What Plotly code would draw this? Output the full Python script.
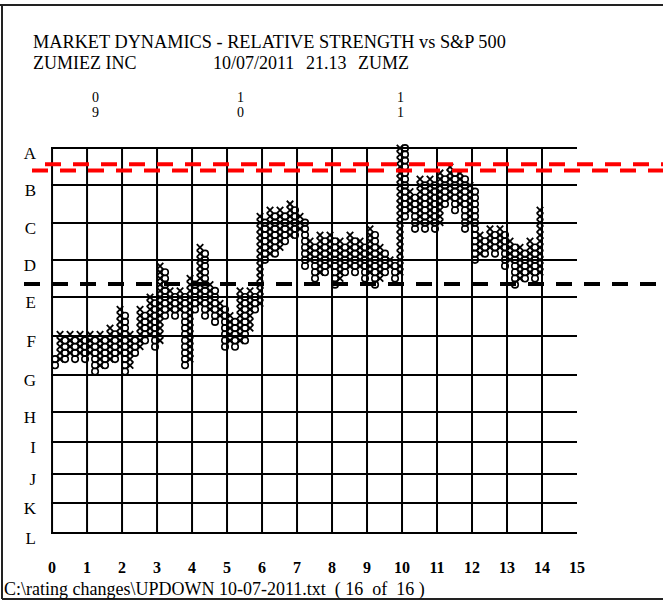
import plotly.graph_objects as go

# ---------------- data ----------------
# point & figure columns (box units), left to right
col_types = ("OXOXOXOXOXOXOXOXO"
             "XOXOXOXOXOXOXOXOXOXOXOXO"
             "XOXOXOXOXOXOXOXOXOXOXOXOXOXO"
             "XOXOXOXOXOXOXOXOXOXOXOXOXOXOX")
col_low = [27, 28, 28, 29, 28, 29, 28, 29, 26, 27, 27, 28, 28, 29, 26, 27, 29,
           30, 31, 32, 30, 31, 35, 36, 35, 36, 27, 28, 36, 37, 35, 36, 34, 35, 30, 31, 30, 31, 31, 33, 36,
           37, 44, 45, 45, 46, 47, 48, 48, 49, 43, 44, 41, 42, 42, 43, 40, 41, 42, 43, 42, 43, 41, 42, 40, 41, 42, 43, 41,
           42, 51, 52, 49, 50, 49, 50, 49, 50, 53, 54, 52, 53, 49, 50, 44, 45, 45, 46, 45, 46, 43, 44, 40, 41, 41, 42, 41, 42]
col_high = [28, 32, 31, 32, 31, 32, 31, 32, 31, 32, 31, 33, 32, 36, 35, 32, 31,
            36, 35, 38, 37, 43, 42, 39, 38, 39, 38, 41, 40, 46, 45, 40, 39, 37, 36, 35, 34, 39, 38, 39, 38,
            51, 50, 52, 51, 52, 51, 53, 52, 51, 50, 47, 46, 48, 47, 48, 47, 47, 46, 48, 47, 47, 46, 49, 48, 46, 45, 44, 43,
            64, 63, 55, 54, 57, 56, 57, 56, 58, 57, 59, 58, 58, 57, 56, 55, 48, 47, 49, 48, 49, 48, 47, 46, 46, 45, 47, 46, 52]

letters = list("ABCDEFGHIJKL")
letter_levels = [62, 56, 50, 44, 38, 31.7, 25.5, 19.5, 14.7, 9.5, 4.8, 0]
x_tick_values = list(range(16))
grid_columns = list(range(15))
month_top = ["0", "1", "1"]
month_bottom = ["9", "0", "1"]
month_col_index = [8, 37, 69]
red_levels = [59.4, 58.4]
black_level = 40.1

title1 = "MARKET DYNAMICS - RELATIVE STRENGTH vs S&P 500"
company = "ZUMIEZ INC"
date_txt = "10/07/2011"
price_txt = "21.13"
ticker = "ZUMZ"
footer = "C:\\rating changes\\UPDOWN 10-07-2011.txt  ( 16  of  16 )"

# ---------------- layout geometry ----------------
W, H = 663, 602
L_M, R_M, T_M, B_M = 51, 86, 146, 67
PW, PH = W - L_M - R_M, H - T_M - B_M
X_RANGE = [-0.03, 15.0]
Y_RANGE = [-0.35, 62.35]
COL_X0, COL_STEP = 3 / 35, 1 / 7
SERIF = "Liberation Serif, Times New Roman, serif"


def px_x(p):
    return (p - L_M) / PW


def px_y(p):
    return (H - B_M - p) / PH


def col_x(i):
    return COL_X0 + i * COL_STEP


xs_x, ys_x, xs_o, ys_o = [], [], [], []
for i, (t, lo, hi) in enumerate(zip(col_types, col_low, col_high)):
    for b in range(lo, hi + 1):
        if t == "X":
            xs_x.append(col_x(i)); ys_x.append(b)
        else:
            xs_o.append(col_x(i)); ys_o.append(b)

fig = go.Figure()
fig.add_trace(go.Scatter(x=xs_o, y=ys_o, mode="markers", cliponaxis=False,
                         marker=dict(symbol="circle-open", size=6.5, color="black",
                                     line=dict(width=1.6, color="black")),
                         hoverinfo="skip", showlegend=False))
fig.add_trace(go.Scatter(x=xs_x, y=ys_x, mode="markers", cliponaxis=False,
                         marker=dict(symbol="x-thin-open", size=6.5, color="black",
                                     line=dict(width=1.8, color="black")),
                         hoverinfo="skip", showlegend=False))

shapes = []
for g in grid_columns:
    shapes.append(dict(type="line", xref="x", yref="y", x0=g, x1=g,
                       y0=letter_levels[-1], y1=letter_levels[0],
                       line=dict(color="black", width=2)))
# reference lines
shapes.append(dict(type="line", xref="paper", yref="y", x0=px_x(45), x1=px_x(663),
                   y0=red_levels[0], y1=red_levels[0],
                   line=dict(color="#ff0000", width=4, dash="16px,12px")))
shapes.append(dict(type="line", xref="paper", yref="y", x0=px_x(32), x1=px_x(663),
                   y0=red_levels[1], y1=red_levels[1],
                   line=dict(color="#ff0000", width=4, dash="16px,12px")))
shapes.append(dict(type="line", xref="paper", yref="y", x0=px_x(24), x1=px_x(663),
                   y0=black_level, y1=black_level,
                   line=dict(color="black", width=4, dash="16px,12px")))
# page frame
shapes.append(dict(type="line", xref="paper", yref="paper", x0=px_x(0), x1=px_x(663),
                   y0=px_y(5), y1=px_y(5), line=dict(color="#222222", width=2)))
shapes.append(dict(type="line", xref="paper", yref="paper", x0=px_x(2), x1=px_x(2),
                   y0=px_y(5), y1=px_y(599), line=dict(color="#222222", width=2)))
shapes.append(dict(type="line", xref="paper", yref="paper", x0=px_x(2), x1=px_x(663),
                   y0=px_y(599), y1=px_y(599), line=dict(color="#222222", width=2)))

ann = []


def txt(s, x, y, size=18, anchor="left"):
    ann.append(dict(text=s, xref="paper", yref="paper", x=px_x(x), y=px_y(y),
                    xanchor=anchor, yanchor="middle", showarrow=False,
                    font=dict(family=SERIF, size=size, color="black")))


txt(title1, 31, 42, size=18.3)
txt(company, 31, 63)
txt(date_txt, 211, 63)
txt(price_txt, 304, 63)
txt(ticker, 356, 63)
txt(footer, 2, 589, size=18)
for top, bot, ci in zip(month_top, month_bottom, month_col_index):
    ann.append(dict(text=top, xref="x", yref="paper", x=col_x(ci), y=px_y(98),
                    xanchor="center", yanchor="middle", showarrow=False, borderpad=0,
                    font=dict(family=SERIF, size=14, color="black")))
    ann.append(dict(text=bot, xref="x", yref="paper", x=col_x(ci), y=px_y(112),
                    xanchor="center", yanchor="middle", showarrow=False, borderpad=0,
                    font=dict(family=SERIF, size=14, color="black")))

fig.update_layout(
    width=W, height=H, margin=dict(l=L_M, r=R_M, t=T_M, b=B_M, pad=0),
    paper_bgcolor="white", plot_bgcolor="white",
    shapes=shapes, annotations=ann, showlegend=False,
    xaxis=dict(range=X_RANGE, showgrid=False, zeroline=False, showline=False,
               tickmode="array", tickvals=x_tick_values, ticktext=[str(v) for v in x_tick_values],
               ticks="", ticklabelstandoff=21,
               tickfont=dict(family=SERIF, size=16, color="black", weight="bold")),
    yaxis=dict(range=Y_RANGE, showgrid=True, gridcolor="black", gridwidth=2, zeroline=False,
               showline=False, tickmode="array", tickvals=letter_levels, ticktext=letters,
               ticks="", ticklabelstandoff=14, ticklabelshift=5,
               tickfont=dict(family=SERIF, size=17, color="black")),
)
fig.write_html("out.html", config={"displayModeBar": False},
               post_script="document.body.style.margin='0px';")
